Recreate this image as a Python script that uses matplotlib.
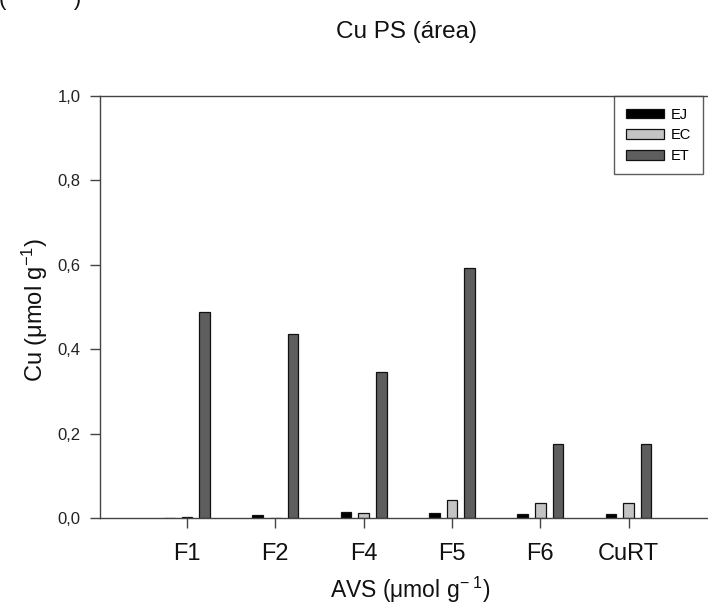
import matplotlib
matplotlib.use("Agg")
import matplotlib.pyplot as plt
import numpy as np

plt.rcParams['font.family'] = ['Liberation Sans', 'DejaVu Sans']
plt.rcParams['mathtext.fontset'] = 'custom'
plt.rcParams['mathtext.rm'] = 'Liberation Sans'
plt.rcParams['mathtext.it'] = 'Liberation Sans'

categories = ["F1", "F2", "F4", "F5", "F6", "CuRT"]
ej = [0.0, 0.006, 0.015, 0.011, 0.009, 0.009]
ec = [0.003, 0.0, 0.011, 0.043, 0.035, 0.035]
et = [0.489, 0.436, 0.346, 0.592, 0.175, 0.175]
series_names = ["EJ", "EC", "ET"]
series_colors = ["#000000", "#c4c4c4", "#5e5e5e"]
yticks = [0.0, 0.2, 0.4, 0.6, 0.8, 1.0]
ytick_labels = ["0,0", "0,2", "0,4", "0,6", "0,8", "1,0"]

W, H = 708, 605
fig = plt.figure(figsize=(W / 100, H / 100), dpi=100)
ax = fig.add_axes([100 / W, 1 - 518 / H, 1 - 100 / W, (518 - 96) / H])

x = np.arange(len(categories))
width = 0.12
offset = 0.2
for i, (vals, name, col) in enumerate(zip([ej, ec, et], series_names, series_colors)):
    ax.bar(x + (i - 1) * offset, vals, width, color=col, edgecolor="#111111",
           linewidth=0.9, label=name)

ax.set_xlim(-0.985, 5.9)
ax.set_ylim(0, 1.0)
ax.set_yticks(yticks)
ax.set_yticklabels(ytick_labels, fontsize=12, color="#222222")
ax.set_xticks(x)
ax.set_xticklabels(categories, fontsize=17, color="#111111")
ax.tick_params(axis='y', direction='out', length=7, width=1, color="#444444", pad=7)
ax.tick_params(axis='x', direction='out', length=7, width=1, color="#444444", pad=11)
for side in ["left", "bottom", "top"]:
    ax.spines[side].set_color("#444444")
    ax.spines[side].set_linewidth(1.0)
ax.spines["right"].set_visible(False)

fig.text(35 / W, 1 - 310 / H, "Cu (μmol g$^{-1}$)", rotation=90, ha="center",
         va="center", fontsize=17, color="#111111")
fig.text(410 / W, 1 - 590 / H, "AVS (μmol g$^{-\\ 1}$)", ha="center",
         va="center", fontsize=16.5, color="#111111")

leg = ax.legend(loc="upper left", bbox_to_anchor=((614 - 100) / 608, 1.0),
                frameon=True, fancybox=False, fontsize=10.5, handlelength=2.6,
                handleheight=0.65, borderpad=0.8, labelspacing=0.45,
                handletextpad=0.5, borderaxespad=0)
leg.get_frame().set_edgecolor("#333333")
leg.get_frame().set_linewidth(1.0)

fig.text(407 / W, 1 - 32 / H, "Cu PS (área)", ha="center", va="center",
         fontsize=17.5, color="#111111")
fig.text(-0.002, 1.0, "(           )", ha="left", va="center", fontsize=16,
         color="#111111")

fig.savefig("out.png", dpi=100)
